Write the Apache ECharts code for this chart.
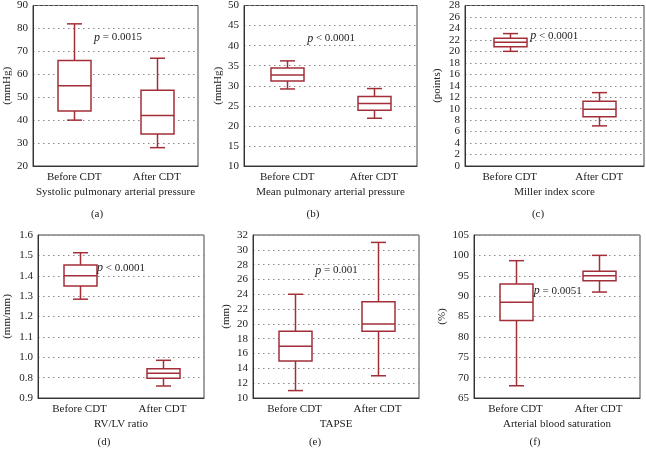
<!DOCTYPE html>
<html>
<head>
<meta charset="utf-8">
<script src="https://cdn.jsdelivr.net/npm/echarts@6/dist/echarts.min.js"></script>
<style>html,body{margin:0;padding:0;background:#fff}#c{width:646px;height:450px}</style>
</head>
<body>
<div id="c"></div>
<script>
// ---- data (each row: [lowWhisker, Q1, median, Q3, highWhisker]) ----
const categories = ['Before CDT', 'After CDT'];
const sysPAP = [[40, 44, 55, 66, 82], [28, 34, 42, 53, 67]];
const meanPAP = [[29.2, 31.2, 32.7, 34.4, 36.2], [21.9, 23.9, 25.6, 27.3, 29.3]];
const millerScore = [[20.0, 20.8, 21.6, 22.3, 23.1], [7.0, 8.6, 9.9, 11.3, 12.8]];
const rvlvRatio = [[1.285, 1.35, 1.40, 1.453, 1.513], [0.859, 0.897, 0.921, 0.943, 0.985]];
const tapse = [[11, 15, 17, 19, 24], [13, 19, 20, 23, 31]];
const saturation = [[68, 84, 88.5, 93, 98.7], [91, 93.8, 95, 96.1, 100]];

const axisNames = ['Systolic pulmonary arterial pressure', 'Mean pulmonary arterial pressure', 'Miller index score', 'RV/LV ratio', 'TAPSE', 'Arterial blood saturation'];
const unitNames = ['(mmHg)', '(mmHg)', '(points)', '(mm/mm)', '(mm)', '(%)'];
const panelLetters = ['(a)', '(b)', '(c)', '(d)', '(e)', '(f)'];
const pTexts = ['= 0.0015', '< 0.0001', '< 0.0001', '< 0.0001', '= 0.001', '= 0.0051'];
const pValuesY = [76, 41.8, 22.7, 1.437, 27.2, 91.3];
const pOffsetX = [0.24, 0.23, 0.23, 0.21, 0.25, 0.22];
const yMins = [20, 10, 0, 0.8, 10, 65];
const yMaxs = [90, 50, 28, 1.6, 32, 105];
const yIntervals = [10, 5, 2, 0.1, 2, 5];
const rvlvTickLabels = ['0.9', '0.8', '1.0', '1.1', '1.2', '1.3', '1.4', '1.5', '1.6'];

const panelData = [sysPAP, meanPAP, millerScore, rvlvRatio, tapse, saturation];

// ---- layout ----
const grids = [
  {left: 33, top: 5, width: 165, height: 161},
  {left: 244, top: 5, width: 173, height: 161},
  {left: 465, top: 5, width: 179, height: 161},
  {left: 38, top: 235, width: 166, height: 163},
  {left: 253, top: 235, width: 166, height: 163},
  {left: 474, top: 235, width: 166, height: 163}
];
const nameGaps = [19, 19, 22, 25, 21, 26];
const letterPos = [[97, 209], [313, 209], [538, 209], [104, 437], [315, 437], [535, 437]];

const RED = '#a22f38';
const FONT = "'Liberation Serif', 'DejaVu Serif', serif";
const TXT = '#222';

function renderBox(params, api) {
  const x = api.value(0);
  const lo = api.coord([x, api.value(1)]);
  const q1 = api.coord([x, api.value(2)]);
  const md = api.coord([x, api.value(3)]);
  const q3 = api.coord([x, api.value(4)]);
  const hi = api.coord([x, api.value(5)]);
  const cx = Math.round(lo[0]) + 0.5;
  const hw = 16.5, cw = 7.5;
  const st = {stroke: RED, lineWidth: 1.5, fill: null};
  return {
    type: 'group',
    children: [
      {type: 'line', shape: {x1: cx, y1: q3[1], x2: cx, y2: hi[1]}, style: st},
      {type: 'line', shape: {x1: cx, y1: q1[1], x2: cx, y2: lo[1]}, style: st},
      {type: 'line', shape: {x1: cx - cw, y1: hi[1], x2: cx + cw, y2: hi[1]}, style: st},
      {type: 'line', shape: {x1: cx - cw, y1: lo[1], x2: cx + cw, y2: lo[1]}, style: st},
      {type: 'rect', shape: {x: cx - hw, y: q3[1], width: 2 * hw, height: q1[1] - q3[1]}, style: {stroke: RED, lineWidth: 1.5, fill: '#fff'}},
      {type: 'line', shape: {x1: cx - hw, y1: md[1], x2: cx + hw, y2: md[1]}, style: st}
    ]
  };
}

const option = {
  animation: false,
  backgroundColor: '#fff',
  textStyle: {fontFamily: FONT},
  title: panelLetters.map((t, i) => ({
    text: t, left: letterPos[i][0], top: letterPos[i][1], textAlign: 'center', padding: 0,
    textStyle: {fontFamily: FONT, fontSize: 11, fontWeight: 'normal', color: TXT}
  })),
  grid: grids.map(g => Object.assign({show: true, borderColor: '#444', borderWidth: 1, backgroundColor: 'transparent'}, g)),
  xAxis: [],
  yAxis: [],
  series: []
};

for (let i = 0; i < 6; i++) {
  const yLabel = {fontFamily: FONT, fontSize: 11, color: TXT, margin: 5};
  if (i === 3) yLabel.formatter = function (v, idx) { return rvlvTickLabels[idx]; };
  option.xAxis.push({
    type: 'category', gridIndex: i, data: categories,
    name: axisNames[i], nameLocation: 'middle', nameGap: 21,
    nameTextStyle: {fontFamily: FONT, fontSize: 11, color: TXT},
    axisLine: {lineStyle: {color: '#333', width: 1}},
    axisTick: {inside: true, alignWithLabel: true, length: 3, lineStyle: {color: '#333'}},
    axisLabel: {fontFamily: FONT, fontSize: 11, color: TXT, margin: 6},
    splitLine: {show: false}
  });
  option.yAxis.push({
    type: 'value', gridIndex: i, min: yMins[i], max: yMaxs[i], interval: yIntervals[i],
    name: unitNames[i], nameLocation: 'middle', nameGap: nameGaps[i],
    nameTextStyle: {fontFamily: FONT, fontSize: 11, color: TXT},
    axisLine: {show: true, lineStyle: {color: '#333', width: 1}},
    axisTick: {show: false},
    axisLabel: yLabel,
    splitLine: {show: true, lineStyle: {color: '#888', type: [1.5, 3.5], width: 1}}
  });
  option.series.push({
    type: 'custom', xAxisIndex: i, yAxisIndex: i,
    renderItem: renderBox,
    encode: {x: 0, y: [1, 2, 3, 4, 5]},
    data: panelData[i].map((r, k) => [k].concat(r)),
    z: 5
  });
}
// top-side ticks
for (let i = 0; i < 6; i++) {
  option.xAxis.push({
    type: 'category', gridIndex: i, data: categories, position: 'top',
    axisLine: {show: false}, axisLabel: {show: false},
    axisTick: {inside: true, alignWithLabel: true, length: 3, lineStyle: {color: '#333'}},
    splitLine: {show: false}
  });
}

const chart = echarts.init(document.getElementById('c'), null, {renderer: 'canvas'});
chart.setOption(option);

// p-value annotations positioned via axis scales
const graphics = [];
for (let i = 0; i < 6; i++) {
  const p0 = chart.convertToPixel({xAxisIndex: i, yAxisIndex: i}, [0, pValuesY[i]]);
  const p1 = chart.convertToPixel({xAxisIndex: i, yAxisIndex: i}, [1, pValuesY[i]]);
  const x = p0[0] + (p1[0] - p0[0]) * pOffsetX[i];
  graphics.push({
    type: 'text', x: x, y: p0[1], z: 10,
    style: {
      text: '{i|p} ' + pTexts[i],
      fill: TXT, font: '11px ' + FONT, verticalAlign: 'middle',
      rich: {i: {fontStyle: 'italic', fontFamily: FONT, fontSize: 12, fill: TXT}}
    }
  });
}
chart.setOption({graphic: graphics});
</script>
</body>
</html>
